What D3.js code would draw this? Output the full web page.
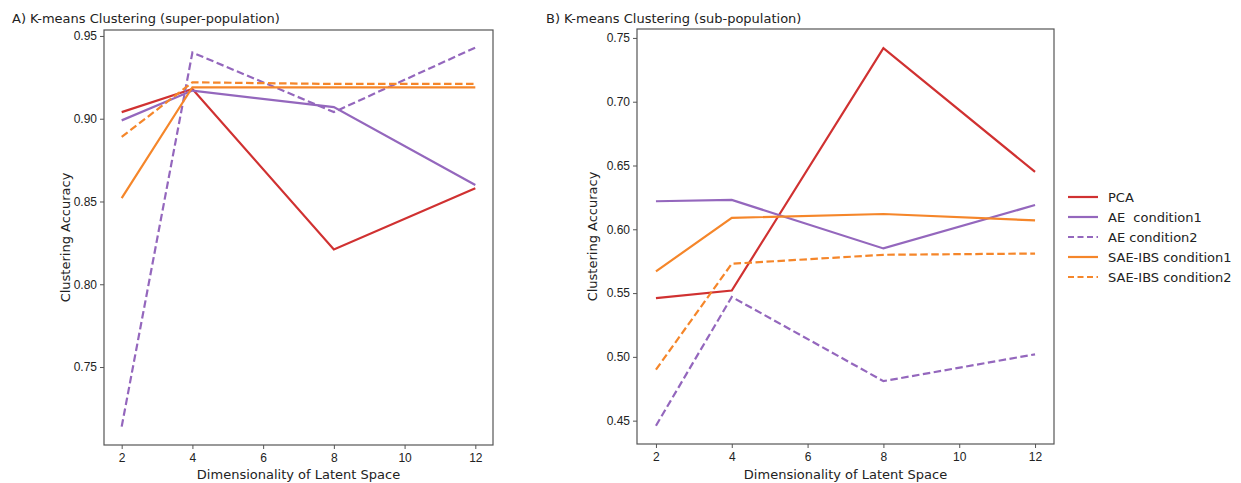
<!DOCTYPE html>
<html>
<head>
<meta charset="utf-8">
<script src="https://cdn.jsdelivr.net/npm/d3@7"></script>
<style>
  body { margin: 0; background: #fff; }
  svg { font-family: "DejaVu Sans", sans-serif; }
  .axis text { font-size: 12px; fill: #222; }
  .axis path, .axis line { stroke: #555; }
</style>
</head>
<body>
<div id="vis"></div>
<script>
// data
var dims = [2, 4, 8, 12];
var xTicks = [2, 4, 6, 8, 10, 12];

var seriesNames = ["PCA", "AE  condition1", "AE condition2", "SAE-IBS condition1", "SAE-IBS condition2"];
var seriesColors = ["#d03131", "#9467bd", "#9467bd", "#f5862a", "#f5862a"];
var seriesDashed = [false, false, true, false, true];

// A) super-population
var superPCA = [0.904, 0.918, 0.821, 0.858];
var superAE1 = [0.899, 0.917, 0.907, 0.860];
var superAE2 = [0.714, 0.940, 0.904, 0.943];
var superSAE1 = [0.852, 0.919, 0.919, 0.919];
var superSAE2 = [0.889, 0.922, 0.921, 0.921];
var superTicks = [0.75, 0.80, 0.85, 0.90, 0.95];

// B) sub-population
var subPCA = [0.546, 0.552, 0.742, 0.645];
var subAE1 = [0.622, 0.623, 0.585, 0.619];
var subAE2 = [0.446, 0.547, 0.481, 0.502];
var subSAE1 = [0.567, 0.609, 0.612, 0.607];
var subSAE2 = [0.490, 0.573, 0.580, 0.581];
var subTicks = [0.45, 0.50, 0.55, 0.60, 0.65, 0.70, 0.75];

var width = 1241, height = 483;

var svg = d3.select("#vis").append("svg")
    .attr("width", width)
    .attr("height", height);

function panel(opts) {
  var x = d3.scaleLinear().domain([1.5, 12.5]).range([opts.left, opts.right]);
  var y = d3.scaleLinear().domain(opts.yDomain).range([opts.bottom, opts.top]);

  var g = svg.append("g");

  // frame
  g.append("rect")
      .attr("x", opts.left)
      .attr("y", opts.top)
      .attr("width", opts.right - opts.left)
      .attr("height", opts.bottom - opts.top)
      .attr("fill", "none")
      .attr("stroke", "#555")
      .attr("stroke-width", 1.2);

  g.append("g")
      .attr("class", "axis")
      .attr("transform", "translate(0," + opts.bottom + ")")
      .call(d3.axisBottom(x).tickValues(xTicks).tickFormat(d3.format("d")).tickSizeOuter(0).tickSize(4).tickPadding(4))
      .call(function(s) { s.select(".domain").remove(); });

  g.append("g")
      .attr("class", "axis")
      .attr("transform", "translate(" + opts.left + ",0)")
      .call(d3.axisLeft(y).tickValues(opts.yTicks).tickFormat(d3.format(".2f")).tickSizeOuter(0).tickSize(4).tickPadding(3))
      .call(function(s) { s.select(".domain").remove(); });

  var line = d3.line()
      .x(function(d, i) { return x(dims[i]); })
      .y(function(d) { return y(d); });

  opts.series.forEach(function(vals, k) {
    g.append("path")
        .datum(vals)
        .attr("d", line)
        .attr("fill", "none")
        .attr("stroke", seriesColors[k])
        .attr("stroke-width", 2.2)
        .attr("stroke-dasharray", seriesDashed[k] ? "7.5,3.5" : null);
  });

  svg.append("text")
      .attr("x", opts.titleX)
      .attr("y", 23)
      .attr("font-size", 13)
      .attr("fill", "#222")
      .text(opts.title);

  svg.append("text")
      .attr("x", (opts.left + opts.right) / 2)
      .attr("y", 479)
      .attr("text-anchor", "middle")
      .attr("font-size", 13)
      .attr("fill", "#222")
      .text("Dimensionality of Latent Space");

  svg.append("text")
      .attr("transform", "translate(" + opts.yLabelX + "," + ((opts.top + opts.bottom) / 2) + ") rotate(-90)")
      .attr("text-anchor", "middle")
      .attr("font-size", 13)
      .attr("fill", "#222")
      .text("Clustering Accuracy");
}

panel({
  left: 104, right: 493, top: 30, bottom: 445,
  yDomain: [0.7029, 0.9536], yTicks: superTicks,
  series: [superPCA, superAE1, superAE2, superSAE1, superSAE2],
  title: "A) K-means Clustering (super-population)", titleX: 12, yLabelX: 70
});

panel({
  left: 637, right: 1054, top: 29, bottom: 444,
  yDomain: [0.4317, 0.757], yTicks: subTicks,
  series: [subPCA, subAE1, subAE2, subSAE1, subSAE2],
  title: "B) K-means Clustering (sub-population)", titleX: 546, yLabelX: 597
});

// legend
var legend = svg.append("g").attr("transform", "translate(1068,197)");
seriesNames.forEach(function(name, k) {
  var row = legend.append("g").attr("transform", "translate(0," + (k * 20) + ")");
  row.append("line")
      .attr("x1", 0).attr("x2", 30)
      .attr("y1", 0).attr("y2", 0)
      .attr("stroke", seriesColors[k])
      .attr("stroke-width", 2.2)
      .attr("stroke-dasharray", seriesDashed[k] ? "6,3.5" : null);
  row.append("text")
      .attr("x", 40)
      .attr("y", 0)
      .attr("dy", "0.35em")
      .attr("font-size", 13)
      .attr("fill", "#222")
      .style("white-space", "pre")
      .text(name);
});
</script>
</body>
</html>
